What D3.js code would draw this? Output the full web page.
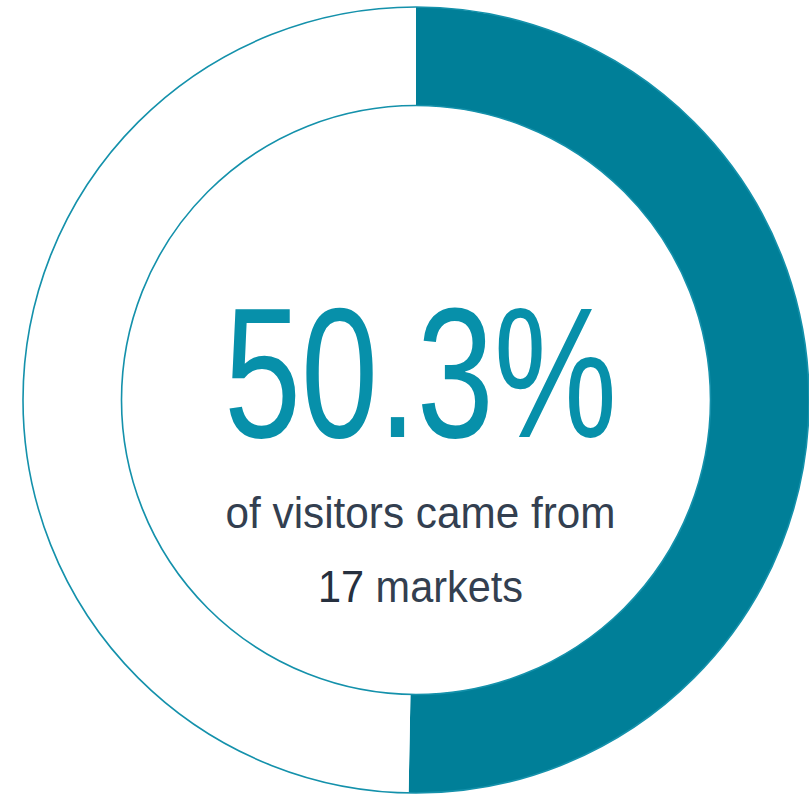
<!DOCTYPE html>
<html><head><meta charset="utf-8">
<script src="https://cdn.jsdelivr.net/npm/d3@7"></script>
<style>html,body{margin:0;padding:0;background:#fff;overflow:hidden}</style>
</head><body>
<svg id="c" width="809" height="795"></svg>
<script>
const categories = ["From 17 markets", "Other"];
const values = [50.3, 49.7];
const headline = "50.3%";
const line1 = "of visitors came from";
const line2a = "17";
const line2b = " markets";

const svg = d3.select("#c");
const cx = 416, cy = 400, rOuter = 393, rInner = 294.5;
const g = svg.append("g").attr("transform", `translate(${cx},${cy})`);
const pie = d3.pie().sort(null).value(d => d)(values);
const arc = d3.arc().innerRadius(rInner).outerRadius(rOuter);
const colors = ["#007f98", "#ffffff"];
g.selectAll("path.seg").data(pie).join("path").attr("class","seg")
  .attr("d", arc).attr("fill", (d,i) => colors[i]);
[rOuter, rInner].forEach(r => g.append("circle").attr("r", r)
  .attr("fill","none").attr("stroke","#1491ab").attr("stroke-width",1.6));

const font = "'Liberation Sans Narrow','Arial Narrow','Liberation Sans',Arial,sans-serif";
function txt(y, size, len, fill) {
  return g.append("text").attr("x", 4.5).attr("y", y - cy).attr("text-anchor","middle")
    .attr("font-family", font).attr("font-size", size).attr("fill", fill)
    .attr("textLength", len).attr("lengthAdjust", "spacingAndGlyphs");
}
txt(437, 186, 393, "#0790aa").text(headline);
txt(528, 45, 390, "#333f50").text(line1);
const t2 = txt(602, 45, 205, "#333f50");
t2.append("tspan").attr("fill","#26303e").text(line2a);
t2.append("tspan").text(line2b);
</script>
</body></html>
